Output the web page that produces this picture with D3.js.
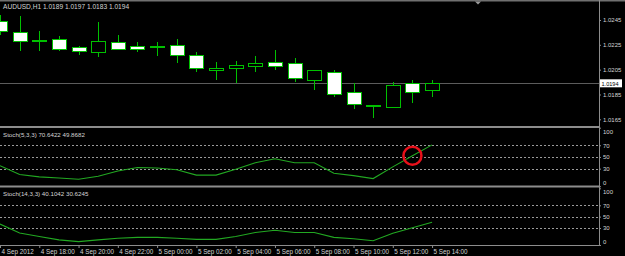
<!DOCTYPE html>
<html>
<head>
<meta charset="utf-8">
<script src="https://cdn.jsdelivr.net/npm/d3@7"></script>
<style>
  html, body { margin: 0; padding: 0; background: #000; }
  svg { display: block; }
  text { font-family: "Liberation Sans Narrow", "Arial Narrow", "Liberation Sans", sans-serif; }
</style>
</head>
<body>
<svg id="chart" width="625" height="256"></svg>
<script>
// hourly bars, AUDUSD H1
const times = ["2012-09-04T16:00","2012-09-04T17:00","2012-09-04T18:00","2012-09-04T19:00",
  "2012-09-04T20:00","2012-09-04T21:00","2012-09-04T22:00","2012-09-04T23:00",
  "2012-09-05T00:00","2012-09-05T01:00","2012-09-05T02:00","2012-09-05T03:00",
  "2012-09-05T04:00","2012-09-05T05:00","2012-09-05T06:00","2012-09-05T07:00",
  "2012-09-05T08:00","2012-09-05T09:00","2012-09-05T10:00","2012-09-05T11:00",
  "2012-09-05T12:00","2012-09-05T13:00","2012-09-05T14:00"];
const opens  = [1.0244,1.0235,1.02287,1.0230,1.02235,1.02195,1.0227,1.0224,1.0224,1.0225,1.0217,1.02045,
  1.0206,1.0208,1.0211,1.0210,1.0197,1.0203,1.0187,1.01758,1.0175,1.0194,1.0189];
const highs  = [1.0249,1.0248,1.0236,1.0232,1.0224,1.0243,1.0233,1.0227,1.0227,1.0230,1.0219,1.0211,
  1.0212,1.0216,1.0221,1.0214,1.0205,1.0205,1.0194,1.0176,1.0195,1.0197,1.0197];
const lows   = [1.0233,1.0220,1.0220,1.0220,1.0217,1.0215,1.0221,1.0219,1.0216,1.0210,1.0203,1.0197,
  1.0194,1.0203,1.0205,1.0195,1.0189,1.0183,1.0173,1.0166,1.0174,1.0178,1.0183];
const closes = [1.0236,1.0228,1.02285,1.0222,1.02203,1.02278,1.0222,1.0222,1.02238,1.0217,1.0206,1.02066,
  1.0209,1.0210,1.0208,1.0198,1.0205,1.0185,1.0177,1.01762,1.0193,1.0187,1.0194];

const stochFast = [35,20,16,14,12,17,26,32,31,28,19,19,29,40,47,40,40,22,18,13,33,52,70.6422];
const stochSlow = [37,21,15,9,6,9,12,13.5,13.5,12,10,10,15,22,26,22,22,13.5,11,7.5,20.6,30.5,40.1042];

const priceTicks = [1.0245, 1.0225, 1.0205, 1.0185, 1.0165];
const levelTicks = [100, 70, 50, 30, 0];
const dashedLevels = [70, 50, 30];
const lastPrice = 1.0194;
const markIndex = 21, markValue = 52;

const headerText = "AUDUSD,H1  1.0189 1.0197 1.0183 1.0194";
const stoch1Text = "Stoch(5,3,3) 70.6422 49.8682";
const stoch2Text = "Stoch(14,3,3) 40.1042 30.6245";

const bars = times.map((t, i) => ({
  t: d3.isoParse(t), o: opens[i], h: highs[i], l: lows[i], c: closes[i],
  s1: stochFast[i], s2: stochSlow[i]
}));

const svg = d3.select("#chart");
const W = 625, H = 256, plotR = 599;
const grid = "#8c8c8c", green = "#00c000", lineGreen = "#22a822", txt = "#d4d4d4";

svg.append("rect").attr("width", W).attr("height", H).attr("fill", "#000");

const t0 = bars[0].t;
const x = d3.scaleTime()
  .domain([t0, d3.timeMinute.offset(t0, 1830)])
  .range([0, plotR]);

const y = d3.scaleLinear().domain([1.0165, 1.0245]).range([119.3, 20]);
const y1 = d3.scaleLinear().domain([0, 100]).range([186.2, 127.7]);
const y2 = d3.scaleLinear().domain([0, 100]).range([245, 188.3]);

const step = x(d3.timeHour.offset(t0, 1)) - x(t0);
const half = Math.round(step * 0.36);

// panel frames
svg.append("rect").attr("x", 0).attr("y", 0).attr("width", W).attr("height", 1.5)
  .attr("fill", "#707070");
[127, 186.5].forEach(v => {
  svg.append("rect").attr("x", 0).attr("y", v - 1).attr("width", plotR).attr("height", 2)
    .attr("fill", grid);
});
svg.append("line").attr("x1", 0).attr("x2", plotR).attr("y1", 245.5).attr("y2", 245.5)
  .attr("stroke", grid);
svg.append("line").attr("x1", plotR + 0.5).attr("x2", plotR + 0.5).attr("y1", 0).attr("y2", 246)
  .attr("stroke", grid);

// shift marker
svg.append("path").attr("d", "M475,1.5 L481,1.5 L478,4.5 Z").attr("fill", "#9a9a9a");

// last price line
svg.append("line")
  .attr("x1", 0).attr("x2", plotR)
  .attr("y1", Math.round(y(lastPrice)) + 0.5).attr("y2", Math.round(y(lastPrice)) + 0.5)
  .attr("stroke", "#5c5c5c");

// candles
const cg = svg.append("g").attr("shape-rendering", "crispEdges");
cg.selectAll("line.wick").data(bars).join("line")
  .attr("class", "wick")
  .attr("x1", d => Math.round(x(d.t)) + 0.5).attr("x2", d => Math.round(x(d.t)) + 0.5)
  .attr("y1", d => y(d.h)).attr("y2", d => y(d.l))
  .attr("stroke", green);

cg.selectAll("rect.body").data(bars).join("rect")
  .attr("class", "body")
  .attr("x", d => Math.round(x(d.t)) - half + 0.5)
  .attr("width", half * 2)
  .attr("y", d => Math.round(y(Math.max(d.o, d.c))) + 0.5)
  .attr("height", d => Math.max(1, Math.round(y(Math.min(d.o, d.c))) - Math.round(y(Math.max(d.o, d.c)))))
  .attr("fill", d => d.c < d.o ? "#fff" : "#000")
  .attr("stroke", green);

// level lines
[y1, y2].forEach(sc => {
  svg.append("g").selectAll("line").data(dashedLevels).join("line")
    .attr("x1", 0).attr("x2", plotR)
    .attr("y1", d => Math.round(sc(d)) + 0.5).attr("y2", d => Math.round(sc(d)) + 0.5)
    .attr("stroke", "#9a9a9a").attr("stroke-dasharray", "2,2");
});

// stochastic lines
svg.append("path").datum(bars)
  .attr("d", d3.line().x(d => x(d.t)).y(d => y1(d.s1)))
  .attr("fill", "none").attr("stroke", lineGreen).attr("stroke-width", 1.1);
svg.append("path").datum(bars)
  .attr("d", d3.line().x(d => x(d.t)).y(d => y2(d.s2)))
  .attr("fill", "none").attr("stroke", lineGreen).attr("stroke-width", 1.1);

// highlight circle
svg.append("circle")
  .attr("cx", x(bars[markIndex].t)).attr("cy", y1(markValue)).attr("r", 9)
  .attr("fill", "none").attr("stroke", "#e8101a").attr("stroke-width", 2.5);

// axes
function styleAxis(g) {
  g.select(".domain").remove();
  g.selectAll(".tick line").attr("stroke", grid);
  g.selectAll(".tick text").attr("fill", txt).attr("font-size", 6);
}
svg.append("g").attr("transform", `translate(${plotR},0)`)
  .call(d3.axisRight(y).tickValues(priceTicks).tickFormat(d3.format(".4f")).tickSize(2).tickPadding(2))
  .call(styleAxis);

[[y1, 4, -4], [y2, 3.5, -3.5]].forEach(([sc, top, bot]) => {
  const g = svg.append("g").attr("transform", `translate(${plotR},0)`)
    .call(d3.axisRight(sc).tickValues(levelTicks).tickSize(2).tickPadding(2))
    .call(styleAxis);
  g.selectAll(".tick text").attr("y", d => d === 100 ? top : d === 0 ? bot : 0);
});

const timeTicks = bars.filter((d, i) => i % 2 === 0).map(d => d.t);
const fmt = d3.timeFormat("%-d %b %H:%M");
svg.append("g").attr("transform", "translate(0,245)")
  .call(d3.axisBottom(x).tickValues(timeTicks)
    .tickFormat((d, i) => i === 0 ? d3.timeFormat("%-d %b %Y")(d) : fmt(d))
    .tickSize(3).tickPadding(2))
  .call(styleAxis)
  .call(g => g.selectAll(".tick text").attr("text-anchor", "start").attr("dx", 1).attr("font-size", 6.3));

// last price tag
const ly = y(lastPrice);
svg.append("rect").attr("x", plotR + 1).attr("y", ly - 4).attr("width", 22).attr("height", 8)
  .attr("fill", "#fff");
svg.append("text").attr("x", plotR + 2.5).attr("y", ly + 2.2)
  .attr("font-size", 6).attr("fill", "#000")
  .attr("textLength", 17).attr("lengthAdjust", "spacingAndGlyphs")
  .text(d3.format(".4f")(lastPrice));

// titles
svg.append("text").attr("x", 3).attr("y", 8.5).attr("font-size", 6.6).attr("fill", txt).text(headerText);
svg.append("text").attr("x", 3).attr("y", 136.5).attr("font-size", 6.2).attr("fill", txt).text(stoch1Text);
svg.append("text").attr("x", 3).attr("y", 196).attr("font-size", 6.2).attr("fill", txt).text(stoch2Text);
</script>
</body>
</html>
